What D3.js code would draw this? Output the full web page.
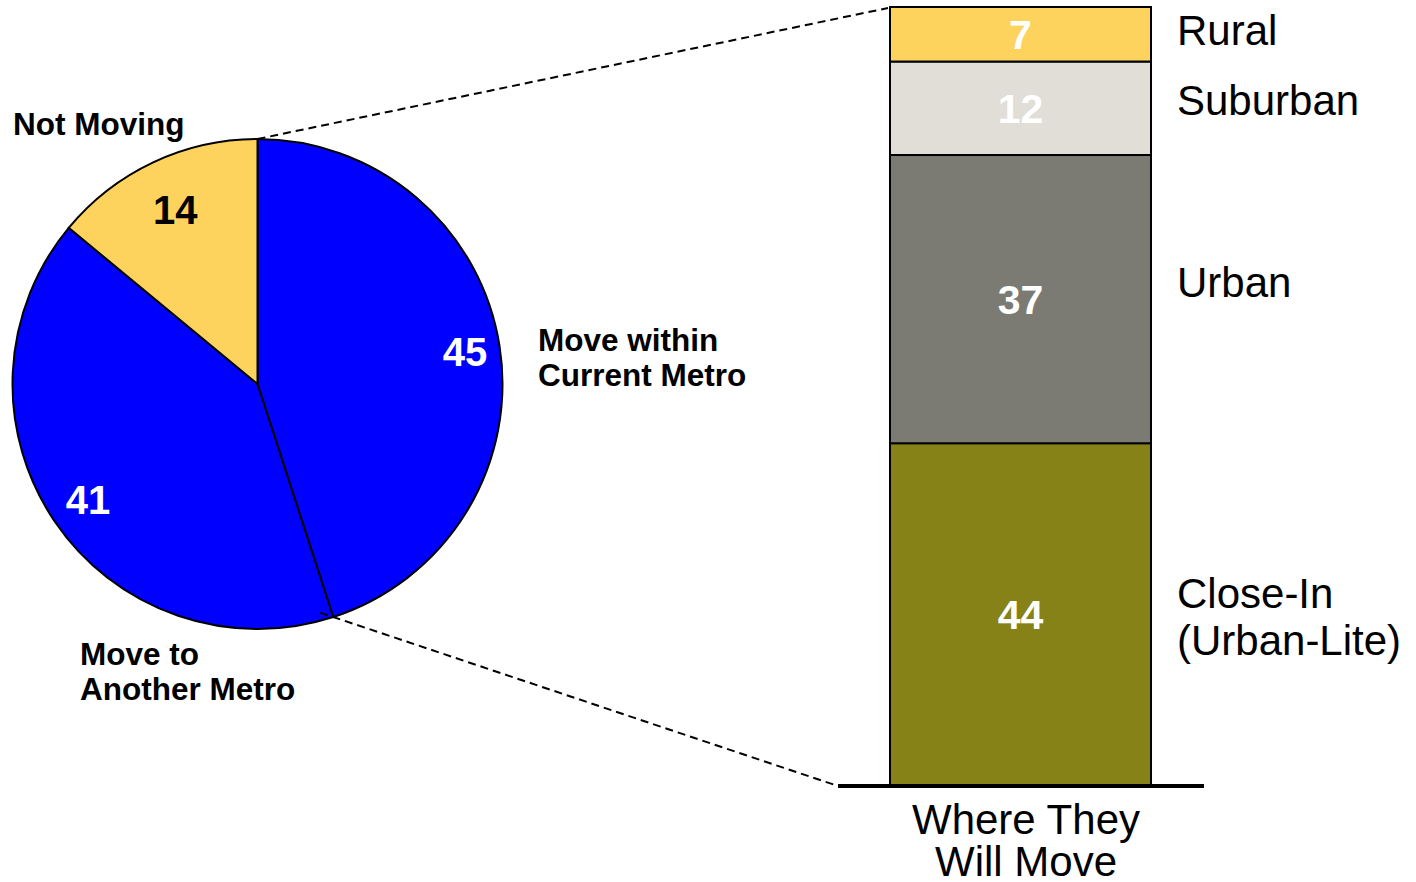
<!DOCTYPE html>
<html>
<head>
<meta charset="utf-8">
<script src="https://cdn.jsdelivr.net/npm/d3@7"></script>
<style>
  body { margin: 0; background: #fff; }
  text { font-family: "Liberation Sans", Arial, sans-serif; }
</style>
</head>
<body>
<div id="chart"></div>
<script>
// pie data (clockwise from 12 o'clock)
var pieKeys = ['within', 'another', 'not'];
var pieValues = [45, 41, 14];
var pieNames = [['Move within', 'Current Metro'], ['Move to', 'Another Metro'], ['Not Moving']];
var pieColors = ['#0000ff', '#0000ff', '#fdd35e'];

// stacked bar data (bottom to top)
var barCategories = [['Close-In', '(Urban-Lite)'], ['Urban'], ['Suburban'], ['Rural']];
var barValues = [44, 37, 12, 7];
var barColors = ['#868218', '#7b7b74', '#e1ddd7', '#fdd35e'];
var barTitle = ['Where They', 'Will Move'];

var svgWidth = 1416;
var svgHeight = 882;

var svg = d3.select('#chart')
    .append('svg')
    .attr('width', svgWidth)
    .attr('height', svgHeight);

// ---- pie ----
var cx = 257.5, cy = 384, radius = 245;

var pie = d3.pie().sort(null).value(d => d)(pieValues);
var arc = d3.arc().innerRadius(0).outerRadius(radius);

var pieGroup = svg.append('g')
    .attr('transform', `translate(${cx}, ${cy})`);

pieGroup.selectAll('path')
    .data(pie)
    .enter()
    .append('path')
    .attr('d', arc)
    .attr('fill', (d, i) => pieColors[i])
    .attr('stroke', '#000')
    .attr('stroke-width', 2);

// value labels inside slices
var labelRadius = [210, 205, 193];
pieGroup.selectAll('text.val')
    .data(pie)
    .enter()
    .append('text')
    .attr('class', 'val')
    .attr('x', (d, i) => labelRadius[i] * Math.sin((d.startAngle + d.endAngle) / 2))
    .attr('y', (d, i) => -labelRadius[i] * Math.cos((d.startAngle + d.endAngle) / 2))
    .attr('dy', '0.36em')
    .attr('text-anchor', 'middle')
    .attr('font-size', 40)
    .attr('font-weight', 'bold')
    .attr('fill', (d, i) => i === 2 ? '#000' : '#fff')
    .text(d => d.value);

// outer slice names
var namePos = [[538, 340], [80, 654], [13, 124]];
pieNames.forEach((lines, i) => {
    var t = svg.append('text')
        .attr('x', namePos[i][0])
        .attr('y', namePos[i][1])
        .attr('font-size', 31.5)
        .attr('font-weight', 'bold')
        .attr('fill', '#000');
    lines.forEach((s, j) => {
        t.append('tspan')
            .attr('x', namePos[i][0])
            .attr('dy', j === 0 ? '0.36em' : '1.1em')
            .text(s);
    });
});

// ---- stacked bar ----
var barX = 890, barW = 261;
var yScale = d3.scaleLinear()
    .domain([0, d3.sum(barValues)])
    .range([786, 7]);

var stacked = [];
var acc = 0;
barValues.forEach((v, i) => {
    stacked.push({ cat: barCategories[i], value: v, y0: acc, y1: acc + v, color: barColors[i] });
    acc += v;
});

var barGroup = svg.append('g');

barGroup.selectAll('rect')
    .data(stacked)
    .enter()
    .append('rect')
    .attr('x', barX)
    .attr('y', d => yScale(d.y1))
    .attr('width', barW)
    .attr('height', d => yScale(d.y0) - yScale(d.y1))
    .attr('fill', d => d.color)
    .attr('stroke', '#000')
    .attr('stroke-width', 2);

barGroup.selectAll('text.val')
    .data(stacked)
    .enter()
    .append('text')
    .attr('class', 'val')
    .attr('x', barX + barW / 2)
    .attr('y', d => (yScale(d.y0) + yScale(d.y1)) / 2)
    .attr('dy', '0.36em')
    .attr('text-anchor', 'middle')
    .attr('font-size', 41)
    .attr('font-weight', 'bold')
    .attr('fill', '#fff')
    .text(d => d.value);

// category names to the right
var nameShift = [2, -17, -8, -4];
stacked.forEach((d, i) => {
    var mid = (yScale(d.y0) + yScale(d.y1)) / 2 + nameShift[i];
    var n = d.cat.length;
    var lh = 47;
    var t = svg.append('text')
        .attr('x', 1177)
        .attr('y', mid - (n - 1) * lh / 2)
        .attr('font-size', 42)
        .attr('fill', '#000');
    d.cat.forEach((s, j) => {
        t.append('tspan')
            .attr('x', 1177)
            .attr('dy', j === 0 ? '0.36em' : lh)
            .text(s);
    });
});

// baseline
svg.append('line')
    .attr('x1', 838)
    .attr('x2', 1204)
    .attr('y1', yScale(0))
    .attr('y2', yScale(0))
    .attr('stroke', '#000')
    .attr('stroke-width', 4);

// title under bar
var tt = svg.append('text')
    .attr('x', 1026)
    .attr('y', 819)
    .attr('font-size', 42)
    .attr('text-anchor', 'middle')
    .attr('fill', '#000');
barTitle.forEach((s, j) => {
    tt.append('tspan')
        .attr('x', 1026)
        .attr('dy', j === 0 ? '0.36em' : 42)
        .text(s);
});

// dashed connectors from pie slice to bar
var topAngle = pie[0].startAngle;
var botAngle = pie[0].endAngle;
var px1 = cx + radius * Math.sin(topAngle), py1 = cy - radius * Math.cos(topAngle);
var px2 = cx + radius * Math.sin(botAngle), py2 = cy - radius * Math.cos(botAngle);
var bx2 = 838, by2 = yScale(0);
var slope = (by2 - py2) / (bx2 - px2);

svg.append('line')
    .attr('x1', px1).attr('y1', py1)
    .attr('x2', barX - 2).attr('y2', yScale(100) + 1)
    .attr('stroke', '#000')
    .attr('stroke-width', 2)
    .attr('stroke-dasharray', '8,5');

svg.append('line')
    .attr('x1', px2 - 13).attr('y1', py2 - 13 * slope)
    .attr('x2', bx2 - 3).attr('y2', by2 - 3 * slope)
    .attr('stroke', '#000')
    .attr('stroke-width', 2)
    .attr('stroke-dasharray', '8,5');
</script>
</body>
</html>
